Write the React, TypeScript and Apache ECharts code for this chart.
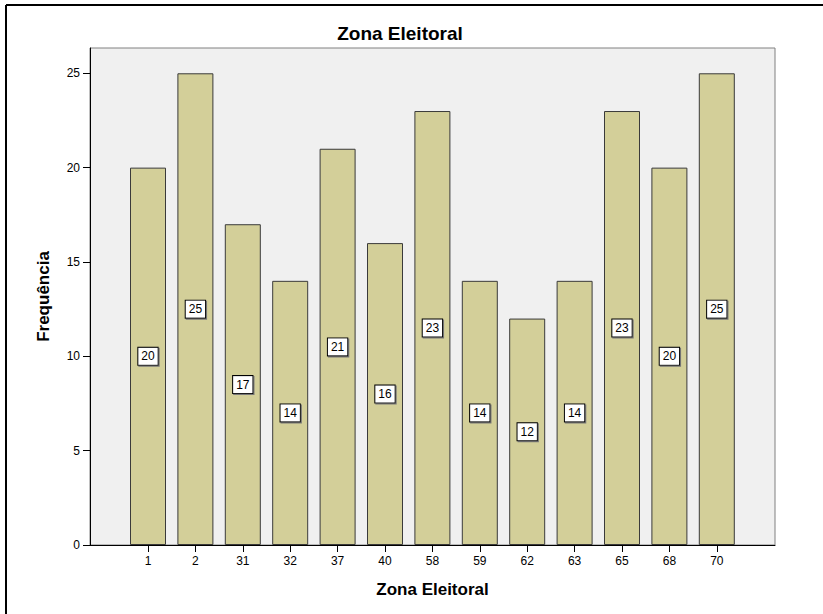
import React, { useEffect, useRef } from "react";
import * as echarts from "echarts";

const categories = ["1", "2", "31", "32", "37", "40", "58", "59", "62", "63", "65", "68", "70"];
const frequencies = [20, 25, 17, 14, 21, 16, 23, 14, 12, 14, 23, 20, 25];
const yTicks = [0, 5, 10, 15, 20, 25];
const titleText = "Zona Eleitoral";
const xName = "Zona Eleitoral";
const yName = "Frequência";

const FONT = "'Liberation Sans', Arial, sans-serif";
const Y_MAX = 26.34;

export default function App() {
  const ref = useRef<HTMLDivElement>(null);
  useEffect(() => {
    if (!ref.current) return;
    const chart = echarts.init(ref.current, undefined, { renderer: "svg" });
    const plotLeft = 90;
    const plotTop = 48;
    const plotW = 685;
    const plotH = 497;
    const band = 47.4;
    const barGridW = band * categories.length;
    const barGridLeft = 148 - band / 2;
    chart.setOption({
      animation: false,
      backgroundColor: "#ffffff",
      textStyle: { fontFamily: FONT },
      graphic: [
        { type: "line", shape: { x1: 6, y1: 5, x2: 823, y2: 5 }, style: { stroke: "#000", lineWidth: 2 }, z: 100 },
        { type: "line", shape: { x1: 6, y1: 5, x2: 6, y2: 614 }, style: { stroke: "#000", lineWidth: 2 }, z: 100 },
        {
          type: "text",
          x: 400,
          y: 33,
          style: {
            text: titleText,
            font: `bold 19px ${FONT}`,
            fill: "#000",
            align: "center",
            verticalAlign: "middle",
          },
        },
      ],
      grid: [
        {
          left: plotLeft,
          top: plotTop,
          width: plotW,
          height: plotH,
          show: true,
          backgroundColor: "#F0F0F0",
          borderColor: "#808080",
          borderWidth: 1,
        },
        {
          left: barGridLeft,
          top: plotTop,
          width: barGridW,
          height: plotH,
        },
      ],
      xAxis: [
        {
          type: "value",
          gridIndex: 0,
          min: 0,
          max: 1,
          axisLine: { show: true, lineStyle: { color: "#000", width: 1 } },
          axisTick: { show: false },
          axisLabel: { show: false },
          splitLine: { show: false },
          name: xName,
          nameLocation: "middle",
          nameGap: 36,
          nameTextStyle: { fontFamily: FONT, fontWeight: "bold", fontSize: 17, color: "#000" },
        },
        {
          type: "category",
          gridIndex: 1,
          data: categories,
          axisLine: { show: false },
          axisTick: { show: true, alignWithLabel: true, length: 7, lineStyle: { color: "#000" } },
          axisLabel: { color: "#000", fontSize: 12, margin: 10, fontFamily: FONT },
        },
      ],
      yAxis: [
        {
          type: "value",
          gridIndex: 0,
          min: 0,
          max: Y_MAX,
          axisLine: { show: true, lineStyle: { color: "#000", width: 1 } },
          axisTick: { show: true, length: 7, lineStyle: { color: "#000" }, customValues: yTicks },
          axisLabel: { color: "#000", fontSize: 12, margin: 10, fontFamily: FONT, customValues: yTicks },
          splitLine: { show: false },
          name: yName,
          nameLocation: "middle",
          nameGap: 38,
          nameTextStyle: { fontFamily: FONT, fontWeight: "bold", fontSize: 17, color: "#000" },
        },
        {
          type: "value",
          gridIndex: 1,
          min: 0,
          max: Y_MAX,
          show: false,
        },
      ],
      series: [
        {
          type: "bar",
          xAxisIndex: 1,
          yAxisIndex: 1,
          data: frequencies,
          barWidth: 36,
          itemStyle: { color: "#D3CF99", borderColor: "#3a3a3a", borderWidth: 1 },
          label: {
            show: true,
            position: "inside",
            color: "#000",
            fontSize: 12,
            fontFamily: FONT,
            backgroundColor: "#fff",
            borderColor: "#000",
            borderWidth: 1,
            padding: [3, 3, 2, 3],
            shadowColor: "#777",
            shadowOffsetX: 1,
            shadowOffsetY: 1,
            shadowBlur: 0,
          },
        },
      ],
    });
    return () => chart.dispose();
  }, []);
  return (
    <div
      ref={ref}
      style={{ position: "fixed", left: 0, top: 0, width: 823, height: 614 }}
    />
  );
}
